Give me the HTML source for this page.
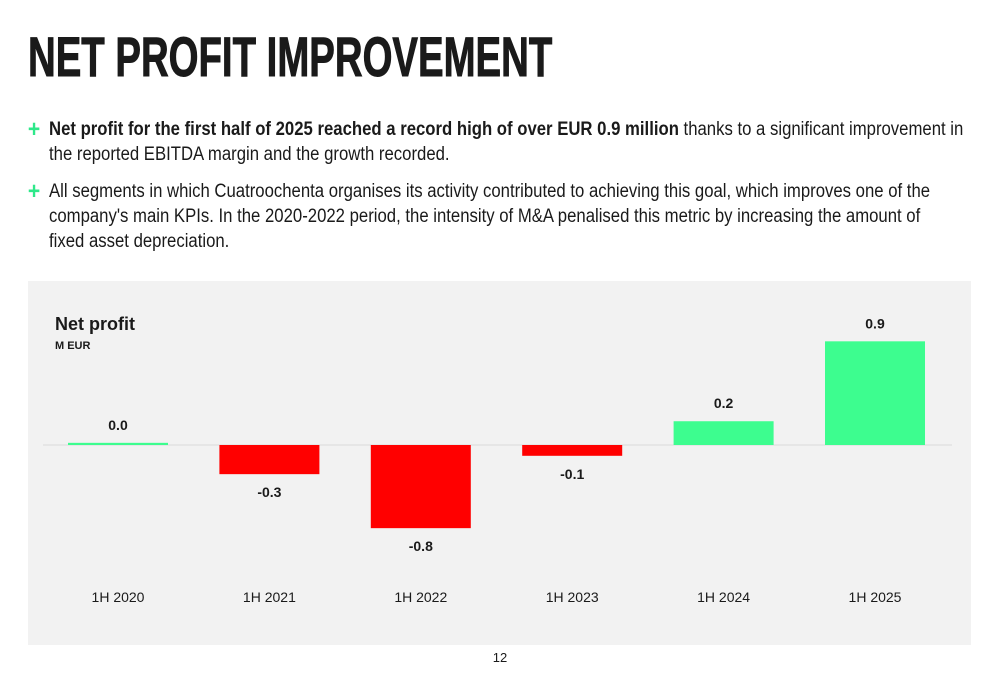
<!DOCTYPE html>
<html><head><meta charset="utf-8"><style>
body{margin:0;width:1000px;height:685px;background:#fff;font-family:"Liberation Sans",sans-serif;color:#1a1a1a;position:relative;overflow:hidden}
h1{position:absolute;left:28px;top:24px;margin:0;font-size:56px;font-weight:bold;letter-spacing:0px;color:#1a1a1a;transform:scaleX(0.685);transform-origin:0 0;white-space:nowrap;-webkit-text-stroke:1px #1a1a1a}
.b{position:absolute;left:49px;font-size:19px;line-height:25px;width:1070px;transform:scaleX(0.88);transform-origin:0 0}
.plus{position:absolute;left:-24px;top:0;color:#2ee88a;font-weight:bold;font-size:24px}
#panel{position:absolute;left:28px;top:281px;width:943px;height:364px;background:#f2f2f2}
.pg{position:absolute;left:0;width:1000px;top:650px;text-align:center;font-size:13px}
</style></head><body>
<h1>NET PROFIT IMPROVEMENT</h1>
<div class="b" style="top:117px"><span class="plus">+</span><b>Net profit for the first half of 2025 reached a record high of over EUR 0.9 million</b> thanks to a significant improvement in the reported EBITDA margin and the growth recorded.</div>
<div class="b" style="top:179px;width:1030px"><span class="plus">+</span>All segments in which Cuatroochenta organises its activity contributed to achieving this goal, which improves one of the company's main KPIs. In the 2020-2022 period, the intensity of M&amp;A penalised this metric by increasing the amount of fixed asset depreciation.</div>
<div id="panel"></div>
<svg id="chart" width="1000" height="685" style="position:absolute;left:0;top:0"></svg>
<div class="pg">12</div>
<script>
const categories=["1H 2020","1H 2021","1H 2022","1H 2023","1H 2024","1H 2025"];
const values=[0.02,-0.27,-0.77,-0.10,0.22,0.96];
const labels=["0.0","-0.3","-0.8","-0.1","0.2","0.9"];
const svg=document.getElementById('chart');
const NS='http://www.w3.org/2000/svg';
const zeroY=445, scale=108, x0=118, step=151.4, bw=100;
const y=v=>zeroY-v*scale;
const xc=i=>x0+i*step;
function mk(t,a){const e=document.createElementNS(NS,t);for(const k in a)e.setAttribute(k,a[k]);svg.appendChild(e);return e;}
function txt(x,yy,s,size,weight,anchor){const t=mk('text',{x:x,y:yy,'font-size':size,'font-weight':weight,'text-anchor':anchor||'middle','font-family':'"Liberation Sans","DejaVu Sans",sans-serif',fill:'#1a1a1a'});t.textContent=s;return t;}
const tt=txt(55,330,"Net profit",18,'bold','start');


const st=txt(55,349,"M EUR",11,'bold','start');


const zl=mk('line',{x1:43,x2:952,y1:zeroY,y2:zeroY,stroke:'#d9d9d9','stroke-width':1});


values.forEach((v,i)=>{
  const top=Math.min(y(v),zeroY),h=Math.abs(y(v)-zeroY);
  const r=mk('rect',{x:xc(i)-bw/2,y:top,width:bw,height:Math.max(h,1.5),fill:v>=0?'#3dfd8f':'#ff0000'});
  
  
  const ly=v>=0?top-13:top+h+23;
  const l=txt(xc(i),ly,labels[i],14,'bold');
  
  
  const c=txt(xc(i),602,categories[i],14,'normal');
  
  
});
</script>
</body></html>
